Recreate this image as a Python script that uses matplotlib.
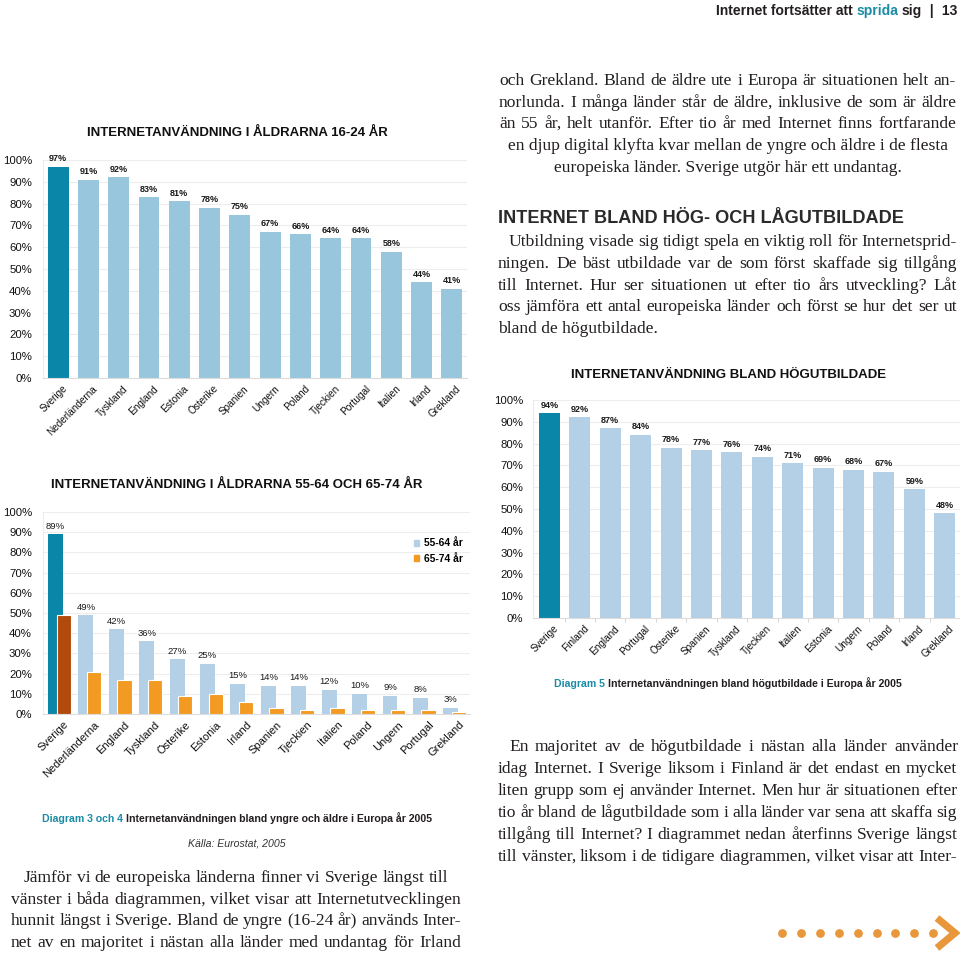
import numpy as np
import matplotlib
matplotlib.use("Agg")
import matplotlib.pyplot as plt
from matplotlib.patches import Patch
from matplotlib.transforms import ScaledTranslation

W, H = 960, 956
SANS = "Liberation Sans"
SERIF = "Liberation Serif"
TEAL = "#0a86a8"
LIGHT1 = "#98c7dd"
LIGHT2 = "#b4d0e7"
ORANGE = "#f29a22"
DARK_OR = "#b24a0c"
INK = "#231f20"
TEAL_TXT = "#1b8ba6"
DOT = "#e8973a"

# --- data -------------------------------------------------------------
pct_ticks = [0, 10, 20, 30, 40, 50, 60, 70, 80, 90, 100]

countries_young = ["Sverige", "Nederländerna", "Tyskland", "England", "Estonia", "Österike",
                   "Spanien", "Ungern", "Poland", "Tjeckien", "Portugal", "Italien", "Irland", "Grekland"]
young_16_24 = [97, 91, 92, 83, 81, 78, 75, 67, 66, 64, 64, 58, 44, 41]

countries_old = ["Sverige", "Nederländerna", "England", "Tyskland", "Österike", "Estonia", "Irland",
                 "Spanien", "Tjeckien", "Italien", "Poland", "Ungern", "Portugal", "Grekland"]
old_55_64 = [89, 49, 42, 36, 27, 25, 15, 14, 14, 12, 10, 9, 8, 3]
old_65_74 = [49, 21, 17, 17, 9, 10, 6, 3, 2, 3, 2, 2, 2, 1]
old_legend = ["55-64 år", "65-74 år"]

countries_edu = ["Sverige", "Finland", "England", "Portugal", "Österike", "Spanien", "Tyskland",
                 "Tjeckien", "Italien", "Estonia", "Ungern", "Poland", "Irland", "Grekland"]
high_edu = [94, 92, 87, 84, 78, 77, 76, 74, 71, 69, 68, 67, 59, 48]

title_young = "INTERNETANVÄNDNING I ÅLDRARNA 16-24 ÅR"
title_old = "INTERNETANVÄNDNING I ÅLDRARNA 55-64 OCH 65-74 ÅR"
title_edu = "INTERNETANVÄNDNING BLAND HÖGUTBILDADE"

header = [("Internet fortsätter att", INK), ("sprida", TEAL_TXT), ("sig", INK), (" |", INK), (" 13", INK)]
caption_34 = [("Diagram 3 och 4", TEAL_TXT), ("Internetanvändningen bland yngre och äldre i Europa år 2005", INK)]
caption_5 = [("Diagram 5", TEAL_TXT), ("Internetanvändningen bland högutbildade i Europa år 2005", INK)]
source = "Källa: Eurostat, 2005"
heading = "INTERNET BLAND HÖG- OCH LÅGUTBILDADE"

left_para = [
    "Jämför vi de europeiska länderna finner vi Sverige längst till",
    "vänster i båda diagrammen, vilket visar att Internetutvecklingen",
    "hunnit längst i Sverige. Bland de yngre (16-24 år) används Inter-",
    "net av en majoritet i nästan alla länder med undantag för Irland",
]
right_top_para = [
    "och Grekland. Bland de äldre ute i Europa är situationen helt an-",
    "norlunda. I många länder står de äldre, inklusive de som är äldre",
    "än 55 år, helt utanför. Efter tio år med Internet finns fortfarande",
    "en djup digital klyfta kvar mellan de yngre och äldre i de flesta",
    "europeiska länder. Sverige utgör här ett undantag.",
]
edu_para = [
    "Utbildning visade sig tidigt spela en viktig roll för Internetsprid-",
    "ningen. De bäst utbildade var de som först skaffade sig tillgång",
    "till Internet. Hur ser situationen ut efter tio års utveckling? Låt",
    "oss jämföra ett antal europeiska länder och först se hur det ser ut",
    "bland de högutbildade.",
]
bottom_para = [
    "En majoritet av de högutbildade i nästan alla länder använder",
    "idag Internet. I Sverige liksom i Finland är det endast en mycket",
    "liten grupp som ej använder Internet. Men hur är situationen efter",
    "tio år bland de lågutbildade som i alla länder var sena att skaffa sig",
    "tillgång till Internet? I diagrammet nedan återfinns Sverige längst",
    "till vänster, liksom i de tidigare diagrammen, vilket visar att Inter-",
]

# --- helpers ----------------------------------------------------------
plt.rcParams['font.family'] = [SANS, 'DejaVu Sans']
fig = plt.figure(figsize=(W / 100, H / 100), dpi=100)
fig.patch.set_facecolor("white")
rend = fig.canvas.get_renderer()


def fx(x):
    return x / W


def fy(y):
    return 1 - y / H


def measure(s, **kw):
    t = fig.text(0, 0, s, **kw)
    w = t.get_window_extent(renderer=rend).width
    t.remove()
    return w


def runs_width(parts, size, **kw):
    sp = measure("a a", fontsize=size, **kw) - measure("aa", fontsize=size, **kw)
    ws = [measure(p, fontsize=size, **kw) for p, c in parts]
    return sum(ws) + sp * (len(parts) - 1), ws, sp


def runs(parts, x, y, ha="left", size=10, width=None, **kw):
    if width is not None:
        total, _, _ = runs_width(parts, size, **kw)
        size = size * width / total
    total, ws, sp = runs_width(parts, size, **kw)
    if ha == "right":
        x -= total
    elif ha == "center":
        x -= total / 2
    for (p, c), w in zip(parts, ws):
        fig.text(fx(x), fy(y), p, color=c, fontsize=size, va="baseline", ha="left", **kw)
        x += w + sp


def justify(line, x0, x1, y, size):
    words = line.split(" ")
    ws = [measure(w, fontsize=size, family=SERIF) for w in words]
    # shrink the line a little if the words do not fit with a minimal gap
    min_total = sum(ws) + 2.5 * (len(words) - 1)
    if min_total > x1 - x0:
        k = (x1 - x0 - 2.5 * (len(words) - 1)) / sum(ws)
        size *= k
        ws = [w * k for w in ws]
    gap = (x1 - x0 - sum(ws)) / max(len(words) - 1, 1)
    x = x0
    for w, wd in zip(words, ws):
        fig.text(fx(x), fy(y), w, fontsize=size, family=SERIF, color=INK, va="baseline")
        x += wd + gap


def body_line(line, x, y, size, ha):
    fig.text(fx(x), fy(y), line, fontsize=size, family=SERIF, color=INK, va="baseline", ha=ha)


def add_axes_px(left, top, right, bottom):
    return fig.add_axes([left / W, 1 - bottom / H, (right - left) / W, (bottom - top) / H])


def style_axes(ax, names, xlim, xsize, pad):
    ax.set_ylim(0, 100)
    ax.set_xlim(*xlim)
    ax.set_yticks(pct_ticks)
    ax.set_yticklabels([f"{v}%" for v in pct_ticks])
    ax.set_xticks(range(len(names)))
    ax.set_xticklabels(names, rotation=45, ha="right", rotation_mode="anchor")
    ax.tick_params(axis="y", length=0, pad=pad, labelsize=8.2, labelcolor="#111111")
    ax.tick_params(axis="x", length=0, pad=4, labelsize=xsize, labelcolor="#111111")
    off = ScaledTranslation(0.04, 0, fig.dpi_scale_trans)
    for lab in ax.get_xticklabels():
        lab.set_transform(lab.get_transform() + off)
    ax.grid(axis="y", color="#ededed", lw=0.8)
    ax.set_axisbelow(True)
    for s in ["top", "right"]:
        ax.spines[s].set_visible(False)
    ax.spines["left"].set_color("#ececec")
    ax.spines["bottom"].set_color("#dcdcdc")
    ax.patch.set_alpha(0)


def value_labels(ax, xs, vals, weight, size=6.5):
    for xi, v in zip(xs, vals):
        ax.annotate(f"{v}%", (xi, v), xytext=(0, 2.5), textcoords="offset points",
                    ha="center", va="bottom", fontsize=size, fontweight=weight,
                    color="#1a1a1a", annotation_clip=False)


# --- chart 1: 16-24 ---------------------------------------------------
ax1 = add_axes_px(43, 160, 467, 378)
x1 = np.arange(len(young_16_24))
ax1.bar(x1, young_16_24, width=0.69, color=[TEAL] + [LIGHT1] * (len(x1) - 1), zorder=2)
style_axes(ax1, countries_young, (-0.5, 13.5), 7.2, 8)
value_labels(ax1, x1, young_16_24, "bold")

# --- chart 2: 55-64 and 65-74 ----------------------------------------
ax2 = add_axes_px(43, 512, 470, 714)
x2 = np.arange(len(old_55_64))
ax2.bar(x2 - 0.13, old_55_64, width=0.49, color=[TEAL] + [LIGHT2] * (len(x2) - 1), zorder=2)
ax2.bar(x2 + 0.14, old_65_74, width=0.47, color=[DARK_OR] + [ORANGE] * (len(x2) - 1),
        edgecolor="white", linewidth=0.8, zorder=3)
style_axes(ax2, countries_old, (-0.54, 13.5), 8.0, 8)
value_labels(ax2, x2 - 0.13, old_55_64, "normal", 6.8)
ax2.legend(handles=[Patch(color=LIGHT2), Patch(color=ORANGE)], labels=old_legend,
           loc="upper left", bbox_to_anchor=(0.868, 0.87), frameon=False,
           handlelength=0.55, handleheight=0.55, handletextpad=0.45, labelspacing=0.55,
           borderpad=0, borderaxespad=0, prop={"family": SANS, "weight": "bold", "size": 7.4})

# --- chart 3: högutbildade --------------------------------------------
ax3 = add_axes_px(533, 400, 960, 618)
x3 = np.arange(len(high_edu))
ax3.bar(x3, high_edu, width=0.69, color=[TEAL] + [LIGHT2] * (len(x3) - 1), zorder=2)
style_axes(ax3, countries_edu, (-0.54, 13.5), 7.2, 7)
value_labels(ax3, x3, high_edu, "bold")
ax3.set_xticks(x3[:-1] + 0.5, minor=True)
ax3.tick_params(axis="x", which="minor", length=3, color="#d0d0d0")

# --- titles and captions ----------------------------------------------
runs(header, 957, 15, ha="right", width=242, weight="bold")
runs([(title_young, "#111111")], 237, 136, ha="center", width=300, weight="bold")
runs([(title_old, "#111111")], 237, 488, ha="center", width=370, weight="bold")
runs([(title_edu, "#111111")], 729, 378, ha="center", width=314, weight="bold")
runs(caption_34, 237, 822, ha="center", width=393, weight="bold")
runs([(source, "#333333")], 237, 847, ha="center", width=98, style="italic")
runs(caption_5, 728, 687, ha="center", width=350, weight="bold")
runs([(heading, "#2a2a2a")], 498, 223, ha="left", width=404, weight="bold")

# --- body text --------------------------------------------------------
BODY = 12.6
justify(left_para[0], 24, 448, 882, BODY)
for i, line in enumerate(left_para[1:]):
    justify(line, 11, 461, 903.7 + 21.7 * i, BODY)

for i, line in enumerate(right_top_para[:3]):
    justify(line, 499, 956, 85 + 21.7 * i, BODY)
body_line(right_top_para[3], 728, 150, BODY, "center")
body_line(right_top_para[4], 728, 172, BODY, "center")

justify(edu_para[0], 509, 957, 246, BODY)
for i, line in enumerate(edu_para[1:4]):
    justify(line, 498, 957, 268 + 21.7 * i, BODY)
body_line(edu_para[4], 498, 333, BODY, "left")

justify(bottom_para[0], 509, 958, 751, BODY)
for i, line in enumerate(bottom_para[1:]):
    justify(line, 498, 957, 773 + 21.9 * i, BODY)

# --- page decoration: dots and arrow ----------------------------------
deco = fig.add_axes([0, 0, 1, 1])
deco.set_xlim(0, W)
deco.set_ylim(H, 0)
deco.axis("off")
deco.patch.set_alpha(0)
dot_x = 782 + 18.9 * np.arange(9)
deco.plot(dot_x, np.full(len(dot_x), 933), "o", ms=6.3, color=DOT, mec="none")
deco.plot([937, 955, 937], [918, 933, 948], color=DOT, lw=5.2,
          solid_joinstyle="miter", solid_capstyle="butt")

fig.savefig("out.png", dpi=100, facecolor="white")
